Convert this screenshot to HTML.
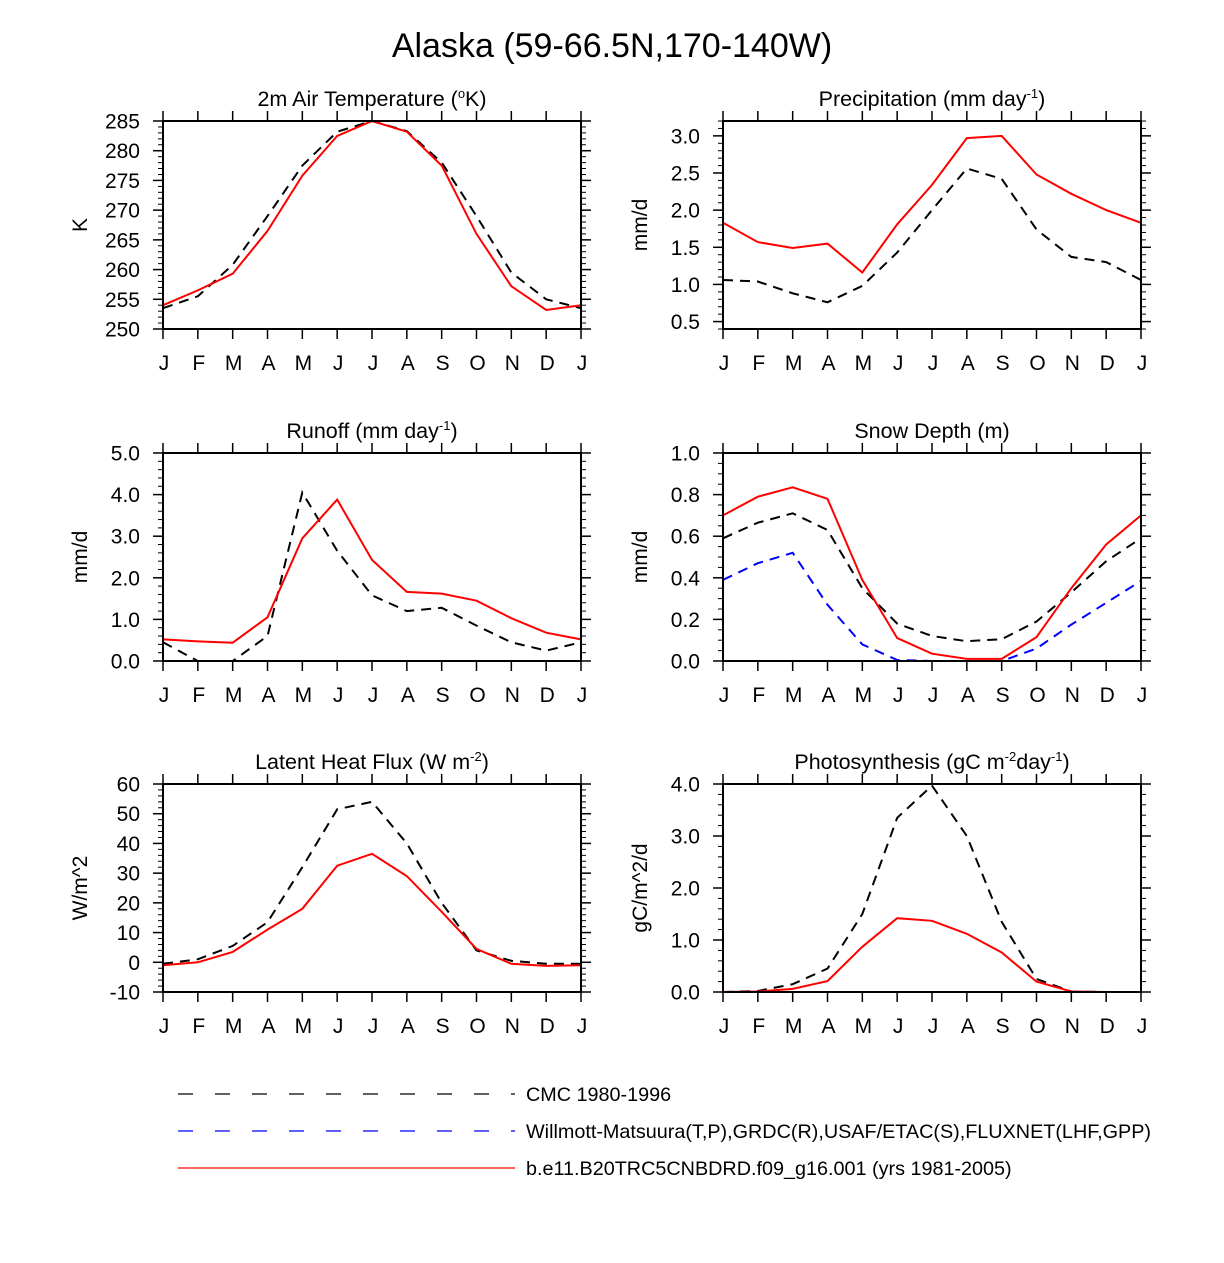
<!DOCTYPE html>
<html><head><meta charset="utf-8"><style>
body{margin:0;background:#fff}
svg text{font-family:"Liberation Sans",Arial,sans-serif;fill:#000}
</style></head><body>
<svg id="chart" width="1224" height="1258" viewBox="0 0 1224 1258" xmlns="http://www.w3.org/2000/svg">
<text x="612" y="57" font-size="34" text-anchor="middle">Alaska (59-66.5N,170-140W)</text>
<g id="panels"></g>
<g>
<line x1="178" y1="1094" x2="515" y2="1094" stroke="#000" stroke-width="1.2" stroke-dasharray="15,22"/>
<text x="526" y="1101" font-size="19.8">CMC 1980-1996</text>
<line x1="178" y1="1131" x2="515" y2="1131" stroke="#00f" stroke-width="1.2" stroke-dasharray="15,22"/>
<text x="526" y="1138" font-size="19.8">Willmott-Matsuura(T,P),GRDC(R),USAF/ETAC(S),FLUXNET(LHF,GPP)</text>
<line x1="178" y1="1168" x2="515" y2="1168" stroke="#f00" stroke-width="1.2"/>
<text x="526" y="1175" font-size="19.8">b.e11.B20TRC5CNBDRD.f09_g16.001 (yrs 1981-2005)</text>
</g>
</svg>
<script>
const months=["J","F","M","A","M","J","J","A","S","O","N","D","J"];
const tempModel=[254,256.5,259.3,266.5,275.8,282.5,285,283.2,277.5,266,257.2,253.2,254];
const tempCMC=[253.5,255.5,260.8,269,277.5,283.2,285,283.3,278,269,259.5,255,253.5];
const precipModel=[1.83,1.57,1.49,1.55,1.16,1.81,2.34,2.97,3.0,2.48,2.22,2.0,1.83];
const precipCMC=[1.06,1.04,0.88,0.76,0.98,1.43,2.0,2.56,2.42,1.74,1.37,1.3,1.06];
const runoffModel=[0.52,0.47,0.44,1.05,2.95,3.88,2.43,1.66,1.62,1.45,1.03,0.68,0.52];
const runoffCMC=[0.45,0.0,0.0,0.6,4.05,2.65,1.58,1.2,1.28,0.85,0.45,0.25,0.45];
const snowModel=[0.70,0.79,0.835,0.78,0.39,0.11,0.035,0.01,0.01,0.115,0.35,0.56,0.70];
const snowCMC=[0.59,0.665,0.71,0.63,0.35,0.18,0.12,0.095,0.105,0.19,0.33,0.48,0.59];
const snowObs=[0.39,0.47,0.52,0.27,0.08,0.005,0,0,0,0.06,0.175,0.28,0.385];
const lhfModel=[-1,0,3.5,11,18,32.5,36.5,29,17,4.5,-0.5,-1.2,-1];
const lhfCMC=[-0.5,1,5.5,13.5,32,51.5,54,40,20,4,0.5,-0.5,-0.5];
const gppModel=[0,0.01,0.06,0.21,0.87,1.42,1.37,1.12,0.76,0.2,0.01,0,0];
const gppCMC=[0,0.02,0.15,0.45,1.5,3.35,3.97,3.0,1.35,0.25,0.01,0,0];
const tempTicks=["250","255","260","265","270","275","280","285"];
const precipTicks=["0.5","1.0","1.5","2.0","2.5","3.0"];
const runoffTicks=["0.0","1.0","2.0","3.0","4.0","5.0"];
const snowTicks=["0.0","0.2","0.4","0.6","0.8","1.0"];
const lhfTicks=["-10","0","10","20","30","40","50","60"];
const gppTicks=["0.0","1.0","2.0","3.0","4.0"];

const NS="http://www.w3.org/2000/svg";
const root=document.getElementById("panels");
function mk(tag,attrs,parent){const e=document.createElementNS(NS,tag);for(const k in attrs)e.setAttribute(k,attrs[k]);(parent||root).appendChild(e);return e;}

const panels=[
 {id:"temperature",title:"2m Air Temperature (<tspan font-size='13' dy='-8'>o</tspan><tspan dy='8'>K)</tspan>",ylab:"K",x0:163,y0:121,min:250,max:285,ticks:tempTicks,minor:1,series:[[tempCMC,"#000",1],[tempModel,"#f00",0]]},
 {id:"precipitation",title:"Precipitation (mm day<tspan font-size='13' dy='-8'>-1</tspan><tspan dy='8'>)</tspan>",ylab:"mm/d",x0:723,y0:121,min:0.4,max:3.2,ticks:precipTicks,minor:0.1,series:[[precipCMC,"#000",1],[precipModel,"#f00",0]]},
 {id:"runoff",title:"Runoff (mm day<tspan font-size='13' dy='-8'>-1</tspan><tspan dy='8'>)</tspan>",ylab:"mm/d",x0:163,y0:453,min:0,max:5,ticks:runoffTicks,minor:0.2,series:[[runoffCMC,"#000",1],[runoffModel,"#f00",0]]},
 {id:"snow-depth",title:"Snow Depth (m)",ylab:"mm/d",x0:723,y0:453,min:0,max:1,ticks:snowTicks,minor:0.05,series:[[snowObs,"#00f",1],[snowCMC,"#000",1],[snowModel,"#f00",0]]},
 {id:"latent-heat",title:"Latent Heat Flux (W m<tspan font-size='13' dy='-8'>-2</tspan><tspan dy='8'>)</tspan>",ylab:"W/m^2",x0:163,y0:784,min:-10,max:60,ticks:lhfTicks,minor:2,series:[[lhfCMC,"#000",1],[lhfModel,"#f00",0]]},
 {id:"photosynthesis",title:"Photosynthesis (gC m<tspan font-size='13' dy='-8'>-2</tspan><tspan dy='8'>day</tspan><tspan font-size='13' dy='-8'>-1</tspan><tspan dy='8'>)</tspan>",ylab:"gC/m^2/d",x0:723,y0:784,min:0,max:4,ticks:gppTicks,minor:0.2,series:[[gppCMC,"#000",1],[gppModel,"#f00",0]]}
];
const W=418,H=208;
panels.forEach(p=>{
 const g=mk("g",{});
 
 
 const xs=i=>p.x0+i*W/12;
 const ys=v=>p.y0+H-(v-p.min)/(p.max-p.min)*H;
 const t=mk("text",{x:p.x0+W/2,y:p.y0-15,"font-size":21.5,"text-anchor":"middle"},g);
 t.innerHTML=p.title;
 
 
 const yl=mk("text",{x:0,y:0,"font-size":21,"text-anchor":"middle",transform:`translate(${p.x0-76},${p.y0+H/2}) rotate(-90)`},g);
 yl.textContent=p.ylab;
 
 
 const nMin=Math.round((p.max-p.min)/p.minor);
 for(let k=0;k<=nMin;k++){const y=ys(p.min+k*p.minor);
  mk("line",{x1:p.x0-5,x2:p.x0,y1:y,y2:y,stroke:"#000","stroke-width":1},g);
  mk("line",{x1:p.x0+W,x2:p.x0+W+5,y1:y,y2:y,stroke:"#000","stroke-width":1},g);}
 p.ticks.forEach(s=>{const y=ys(parseFloat(s));
  mk("line",{x1:p.x0-10,x2:p.x0,y1:y,y2:y,stroke:"#000","stroke-width":1.5},g);
  mk("line",{x1:p.x0+W,x2:p.x0+W+10,y1:y,y2:y,stroke:"#000","stroke-width":1.5},g);
  const tl=mk("text",{x:p.x0-23,y:y+7.5,"font-size":21,"text-anchor":"end"},g);
  tl.textContent=s;
  
  
 });
 months.forEach((m,i)=>{const x=xs(i);
  mk("line",{x1:x,x2:x,y1:p.y0-10,y2:p.y0,stroke:"#000","stroke-width":1.5},g);
  mk("line",{x1:x,x2:x,y1:p.y0+H,y2:p.y0+H+10,stroke:"#000","stroke-width":1.5},g);
  const tl=mk("text",{x:x+1,y:p.y0+H+41,"font-size":21,"text-anchor":"middle"},g);
  tl.textContent=m;
  
  
 });
 p.series.forEach(([d,c,dash])=>{
  const pts=d.map((v,i)=>xs(i).toFixed(1)+","+ys(Math.max(p.min,v)).toFixed(1)).join(" ");
  const pl=mk("polyline",{points:pts,fill:"none",stroke:c,"stroke-width":2,"stroke-dasharray":dash?"10,7":"none"},g);
  
  
 });
 const fr=mk("rect",{x:p.x0,y:p.y0,width:W,height:H,fill:"none",stroke:"#000","stroke-width":2},g);
 
 
});
</script>
</body></html>
